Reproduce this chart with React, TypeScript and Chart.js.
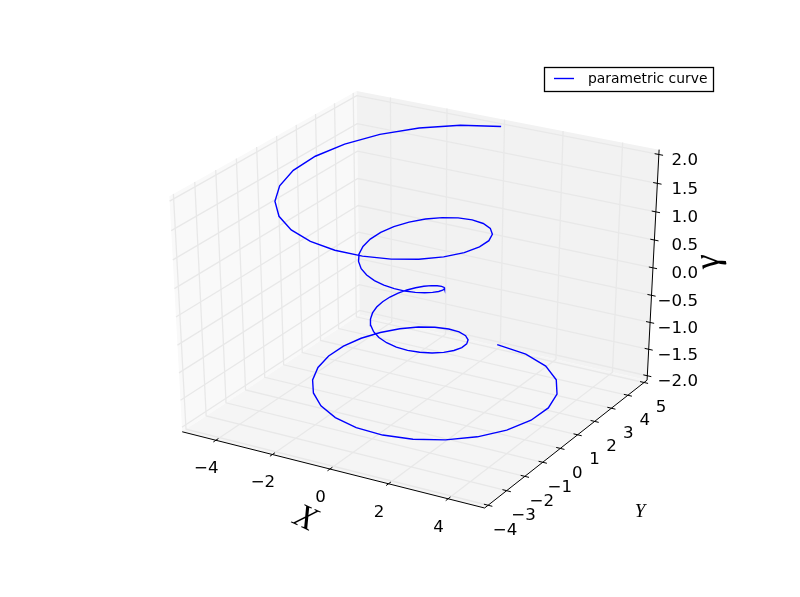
import React, { useEffect, useRef } from "react";
import { Chart, registerables } from "chart.js";

Chart.register(...registerables);

const curveX = [0, 1.216, 2.277, 3.126, 3.721, 4.042, 4.085, 3.865, 3.415, 2.781, 2.012, 1.17, 0.313, -0.502, -1.226, -1.819, -2.253, -2.513, -2.593, -2.503, -2.261, -1.895, -1.436, -0.922, -0.39, 0.126, 0.593, 0.987, 1.289, 1.486, 1.575, 1.559, 1.446, 1.251, 0.992, 0.69, 0.366, 0.04, -0.268, -0.541, -0.765, -0.931, -1.032, -1.066, -1.033, -0.94, -0.792, -0.599, -0.373, -0.127, 0.127, 0.373, 0.599, 0.792, 0.94, 1.033, 1.066, 1.032, 0.931, 0.765, 0.541, 0.268, -0.04, -0.366, -0.69, -0.992, -1.251, -1.446, -1.559, -1.575, -1.486, -1.289, -0.987, -0.593, -0.126, 0.39, 0.922, 1.436, 1.895, 2.261, 2.503, 2.593, 2.513, 2.253, 1.819, 1.226, 0.502, -0.313, -1.17, -2.012, -2.781, -3.415, -3.865, -4.085, -4.042, -3.721, -3.126, -2.277, -1.216, 0];
const curveY = [5, 4.685, 4.092, 3.278, 2.309, 1.257, 0.195, -0.809, -1.693, -2.407, -2.922, -3.214, -3.281, -3.135, -2.801, -2.313, -1.716, -1.053, -0.373, 0.279, 0.864, 1.349, 1.712, 1.938, 2.024, 1.976, 1.807, 1.537, 1.19, 0.796, 0.382, -0.025, -0.4, -0.722, -0.977, -1.152, -1.245, -1.254, -1.186, -1.049, -0.855, -0.619, -0.357, -0.085, 0.182, 0.429, 0.643, 0.813, 0.932, 0.992, 0.992, 0.932, 0.813, 0.643, 0.429, 0.182, -0.085, -0.357, -0.619, -0.855, -1.049, -1.186, -1.254, -1.245, -1.152, -0.977, -0.722, -0.4, -0.025, 0.382, 0.796, 1.19, 1.537, 1.807, 1.976, 2.024, 1.938, 1.712, 1.349, 0.864, 0.279, -0.373, -1.053, -1.716, -2.313, -2.801, -3.135, -3.281, -3.214, -2.922, -2.407, -1.693, -0.809, 0.195, 1.257, 2.309, 3.278, 4.092, 4.685, 5];
const curveZ = [-2, -1.96, -1.919, -1.879, -1.838, -1.798, -1.758, -1.717, -1.677, -1.636, -1.596, -1.556, -1.515, -1.475, -1.434, -1.394, -1.354, -1.313, -1.273, -1.232, -1.192, -1.152, -1.111, -1.071, -1.03, -0.99, -0.949, -0.909, -0.869, -0.828, -0.788, -0.747, -0.707, -0.667, -0.626, -0.586, -0.545, -0.505, -0.465, -0.424, -0.384, -0.343, -0.303, -0.263, -0.222, -0.182, -0.141, -0.101, -0.061, -0.02, 0.02, 0.061, 0.101, 0.141, 0.182, 0.222, 0.263, 0.303, 0.343, 0.384, 0.424, 0.465, 0.505, 0.545, 0.586, 0.626, 0.667, 0.707, 0.747, 0.788, 0.828, 0.869, 0.909, 0.949, 0.99, 1.03, 1.071, 1.111, 1.152, 1.192, 1.232, 1.273, 1.313, 1.354, 1.394, 1.434, 1.475, 1.515, 1.556, 1.596, 1.636, 1.677, 1.717, 1.758, 1.798, 1.838, 1.879, 1.919, 1.96, 2];

const xTicks = [-4, -2, 0, 2, 4];
const yTicks = [-4, -3, -2, -1, 0, 1, 2, 3, 4, 5];
const zTicks = [-2, -1.5, -1, -0.5, 0, 0.5, 1, 1.5, 2];
const xLimits = [-5, 5];
const yLimits = [-4, 5];
const zLimits = [-2, 2];

const seriesName = "parametric curve";
const xTitle = "X";
const yTitle = "Y";
const zTitle = "γ";

// Same camera as a matplotlib 3D axes: elevation 30, azimuth -60, distance 10.
const DIST = 10;
const EXT = 1 / 48;
const N = [0.4330127, -0.75, 0.5];
const U = [0.8660254, 0.5, 0];
const V = [-0.25, 0.4330127, 0.8660254];
const dot = (a: number[], b: number[]) => a[0] * b[0] + a[1] * b[1] + a[2] * b[2];

// world coordinates are 0..1 inside the limits
function fromWorld(w: number[]) {
  const p = [w[0] - 0.5, w[1] - 0.5, w[2] - 0.5];
  const depth = DIST - dot(N, p);
  return { x: dot(U, p) / depth, y: dot(V, p) / depth };
}
const wx = (x: number) => (x - xLimits[0]) / (xLimits[1] - xLimits[0]);
const wy = (y: number) => (y - yLimits[0]) / (yLimits[1] - yLimits[0]);
const wz = (z: number) => (z - zLimits[0]) / (zLimits[1] - zLimits[0]);
const LO = -EXT;
const HI = 1 + EXT;

const GRID = "#e8e8e8";
const line = (pts: number[][], color: string, width: number, extra: object = {}) => ({
  label: "",
  data: pts.map(fromWorld),
  borderColor: color,
  borderWidth: width,
  pointRadius: 0,
  tension: 0,
  fill: false,
  ...extra,
});
const pane = (pts: number[][], color: string) =>
  line([...pts, pts[0]], color, 0, { fill: "shape", backgroundColor: color });

function buildDatasets() {
  const under: any[] = [
    pane([[LO, LO, LO], [LO, HI, LO], [LO, HI, HI], [LO, LO, HI]], "#f9f9f9"),
    pane([[LO, HI, LO], [HI, HI, LO], [HI, HI, HI], [LO, HI, HI]], "#f2f2f2"),
    pane([[LO, LO, LO], [HI, LO, LO], [HI, HI, LO], [LO, HI, LO]], "#f5f5f5"),
  ];
  for (const t of xTicks) {
    const w = wx(t);
    under.push(line([[w, LO, LO], [w, HI, LO], [w, HI, HI]], GRID, 1.3));
  }
  for (const t of yTicks) {
    const w = wy(t);
    under.push(line([[HI, w, LO], [LO, w, LO], [LO, w, HI]], GRID, 1.3));
  }
  for (const t of zTicks) {
    const w = wz(t);
    under.push(line([[LO, LO, w], [LO, HI, w], [HI, HI, w]], GRID, 1.3));
  }
  under.push(line([[LO, LO, LO], [HI, LO, LO]], "#000000", 1));
  under.push(line([[HI, LO, LO], [HI, HI, LO]], "#000000", 1));
  under.push(line([[HI, HI, LO], [HI, HI, HI]], "#000000", 1));
  const d = 0.0139;
  for (const t of xTicks) {
    const w = wx(t);
    under.push(line([[w, LO - d, LO], [w, LO + d, LO]], "#000000", 1));
  }
  for (const t of yTicks) {
    const w = wy(t);
    under.push(line([[HI - d, w, LO], [HI + d, w, LO]], "#000000", 1));
  }
  for (const t of zTicks) {
    const w = wz(t);
    under.push(line([[HI - d, HI, w], [HI + d, HI, w]], "#000000", 1));
  }
  const curve = line(
    curveX.map((x, i) => [wx(x), wy(curveY[i]), wz(curveZ[i])]),
    "#0000ff",
    1.4,
    { label: seriesName, borderJoinStyle: "miter" }
  );
  const all = [...under, curve];
  return all.map((ds, i) => ({ ...ds, order: all.length - i }));
}

const fmt = (v: number, digits: number) => {
  const s = Math.abs(v).toFixed(digits);
  return v < 0 ? "\u2212" + s : s;
};

const textPlugin = {
  id: "axes3dText",
  afterDraw(chart: any) {
    const { ctx, scales } = chart;
    const px = (w: number[]) => {
      const p = fromWorld(w);
      return [scales.x.getPixelForValue(p.x), scales.y.getPixelForValue(p.y)];
    };
    ctx.save();
    ctx.fillStyle = "#000000";
    ctx.textBaseline = "middle";
    ctx.font = '16.67px "DejaVu Sans"';
    ctx.textAlign = "center";
    for (const t of xTicks) {
      const [a, b] = px([wx(t), LO, LO]);
      ctx.fillText(fmt(t, 0), a - 9.5, b + 28.5);
    }
    for (const t of yTicks) {
      const [a, b] = px([HI, wy(t), LO]);
      ctx.fillText(fmt(t, 0), a + 17, b + 25);
    }
    ctx.textAlign = "right";
    for (const t of zTicks) {
      const [, b] = px([HI, HI, wz(t)]);
      ctx.fillText(fmt(t, 1), 698, b + 6);
    }
    // axis titles
    ctx.textAlign = "center";
    ctx.save();
    ctx.translate(305, 519);
    ctx.rotate((25 * Math.PI) / 180);
    ctx.font = 'italic 34px "Liberation Serif"';
    ctx.fillText(xTitle, 0, 0);
    ctx.restore();
    ctx.font = 'italic 19px "Liberation Serif"';
    ctx.fillText(yTitle, 640, 512);
    ctx.save();
    ctx.translate(709, 262);
    ctx.rotate((-98 * Math.PI) / 180);
    ctx.font = 'italic 36px "Liberation Serif"';
    ctx.fillText(zTitle, 0, 0);
    ctx.restore();
    // legend
    ctx.fillStyle = "#ffffff";
    ctx.fillRect(544.5, 67.5, 169, 24);
    ctx.strokeStyle = "#000000";
    ctx.lineWidth = 1.3;
    ctx.strokeRect(544.5, 67.5, 169, 24);
    ctx.strokeStyle = "#0000ff";
    ctx.lineWidth = 1.4;
    ctx.beginPath();
    ctx.moveTo(554, 78.5);
    ctx.lineTo(574, 78.5);
    ctx.stroke();
    ctx.fillStyle = "#000000";
    ctx.textAlign = "left";
    ctx.font = '13.89px "DejaVu Sans"';
    ctx.fillText(seriesName, 588, 79);
    ctx.restore();
  },
};

export default function App() {
  const ref = useRef<HTMLCanvasElement>(null);
  useEffect(() => {
    document.body.style.margin = "0";
    const chart = new Chart(ref.current as HTMLCanvasElement, {
      type: "line",
      data: { datasets: buildDatasets() as any },
      options: {
        animation: false,
        responsive: false,
        parsing: false as any,
        normalized: false as any,
        layout: { padding: { left: 100, right: 80, top: 59.7, bottom: 59.7 } },
        plugins: { legend: { display: false }, tooltip: { enabled: false }, filler: { propagate: false } },
        scales: {
          x: { type: "linear", min: -0.095, max: 0.09, display: false },
          y: { type: "linear", min: -0.095, max: 0.09, display: false },
        },
      },
      plugins: [textPlugin],
    });
    return () => chart.destroy();
  }, []);
  return (
    <div style={{ position: "absolute", left: 0, top: 0, width: 800, height: 597, background: "#fff" }}>
      <canvas ref={ref} width={800} height={597} style={{ display: "block" }} />
    </div>
  );
}
